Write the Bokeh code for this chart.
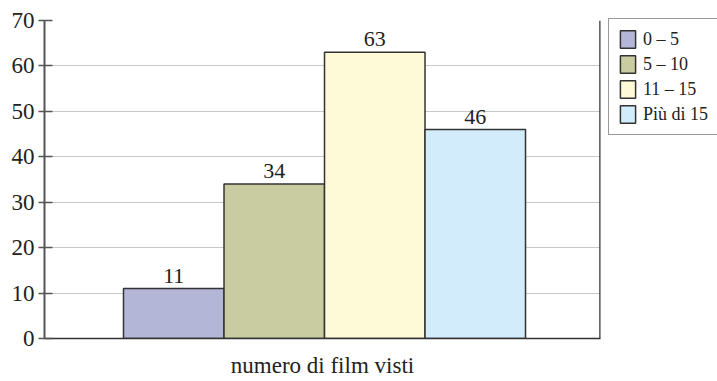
from bokeh.plotting import figure
from bokeh.models import (ColumnDataSource, FixedTicker, Legend, LegendItem,
                          Range1d, Span)
from bokeh.core.properties import value
from bokeh.embed import file_html
from bokeh.resources import INLINE

# Film count classes and number of people in each class
categories = ["0 – 5", "5 – 10", "11 – 15", "Più di 15"]
counts = [11, 34, 63, 46]
colors = ["#b4b6d8", "#c9cca1", "#fef9d6", "#d2ecfb"]
y_ticks = [0, 10, 20, 30, 40, 50, 60, 70]
x_label = "numero di film visti"

FONT = "Liberation Serif"
positions = list(range(1, len(categories) + 1))
X_START, X_END = -0.286, 5.246

src = ColumnDataSource(dict(
    x=positions,
    top=counts,
    color=colors,
    cat=categories,
    txt=[str(c) for c in counts],
))

p = figure(frame_width=556, frame_height=318, output_backend="svg",
           toolbar_location=None,
           x_range=Range1d(X_START, X_END), y_range=Range1d(0, 70),
           min_border_left=44, min_border_right=117, min_border_top=20,
           min_border_bottom=43)
p.outline_line_color = None
p.background_fill_color = "white"
p.border_fill_color = "white"

# grid
p.xgrid.visible = False
p.ygrid.ticker = FixedTicker(ticks=y_ticks)
p.ygrid.grid_line_color = "#c8c8c8"
p.ygrid.grid_line_width = 1

# y axis
ya = p.yaxis[0]
ya.ticker = FixedTicker(ticks=y_ticks)
ya.axis_line_color = "#555555"
ya.axis_line_width = 2
ya.major_tick_line_color = "#555555"
ya.major_tick_line_width = 1.5
ya.major_tick_out = 6
ya.major_tick_in = 8
ya.minor_tick_line_color = None
ya.major_label_standoff = 4
ya.major_label_text_font = FONT
ya.major_label_text_font_size = "23px"
ya.major_label_text_color = "#222222"

# x axis: plain baseline plus the title underneath
xa = p.xaxis[0]
xa.ticker = FixedTicker(ticks=[])
xa.major_tick_out = 0
xa.major_tick_in = 0
xa.minor_tick_line_color = None
xa.axis_line_color = "#333333"
xa.axis_line_width = 1.5
xa.axis_label = x_label
xa.axis_label_text_font = FONT
xa.axis_label_text_font_size = "23px"
xa.axis_label_text_font_style = "normal"
xa.axis_label_text_color = "#222222"
xa.axis_label_standoff = 14

# right edge of the plotting area
p.add_layout(Span(location=X_END, dimension="height", line_color="#333333",
                  line_width=2.5))

bars = p.vbar(x="x", top="top", width=1.0, bottom=0, source=src,
              fill_color="color", line_color="#333333", line_width=1.5)

p.text(x="x", y="top", text="txt", source=src, text_align="center",
       text_baseline="bottom", y_offset=-6, text_font=value(FONT),
       text_font_size="22px", text_color="#222222")

# legend in the right-hand side panel, a small gap from the plotting area
items = [LegendItem(label=c, renderers=[bars], index=i)
         for i, c in enumerate(categories)]
legend = Legend(items=items, location=(8, 203), margin=0, padding=9,
                spacing=3, glyph_width=19, glyph_height=22, label_height=22,
                label_standoff=6, label_text_font=FONT,
                label_text_font_size="18px", label_text_color="#222222",
                border_line_color="#333333", border_line_width=1.2,
                background_fill_color="white", background_fill_alpha=1.0)
p.add_layout(legend, "right")

open("out.html", "w").write(file_html(p, INLINE))
